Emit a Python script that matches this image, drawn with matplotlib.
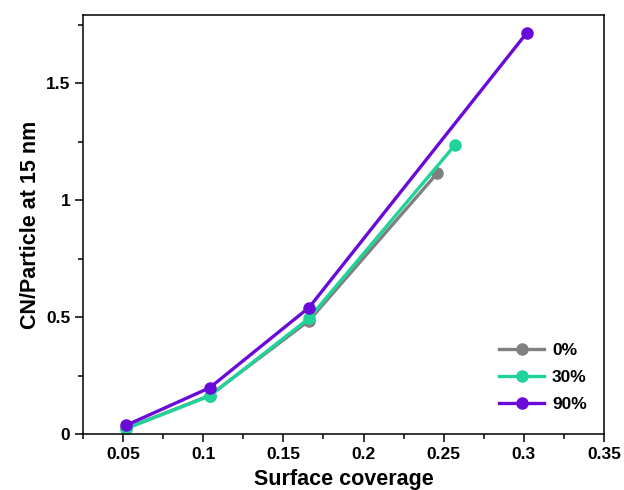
import matplotlib.pyplot as plt
from matplotlib.ticker import MultipleLocator

plt.rcParams['font.family'] = ['Liberation Sans', 'DejaVu Sans']
plt.rcParams['font.weight'] = 'bold'

coverage_0 = [0.052, 0.104, 0.166, 0.246]
cn_0 = [0.025, 0.165, 0.485, 1.115]

coverage_30 = [0.052, 0.104, 0.166, 0.257]
cn_30 = [0.024, 0.163, 0.495, 1.235]

coverage_90 = [0.052, 0.104, 0.166, 0.302]
cn_90 = [0.038, 0.198, 0.541, 1.716]

labels = ['0%', '30%', '90%']
colors = ['#808080', '#1fd39b', '#6a0ad8']

fig = plt.figure(figsize=(6.24, 4.9), dpi=100)
ax = fig.add_axes([0.133, 0.114, 0.835, 0.855])

series = [(coverage_0, cn_0), (coverage_30, cn_30), (coverage_90, cn_90)]
for (x, y), lab, c in zip(series, labels, colors):
    ax.plot(x, y, '-o', color=c, lw=2.4, markersize=8, label=lab)

ax.set_xlim(0.025, 0.35)
ax.set_ylim(0, 1.79)
ax.set_xticks([0.05, 0.1, 0.15, 0.2, 0.25, 0.3, 0.35])
ax.set_xticklabels(['0.05', '0.1', '0.15', '0.2', '0.25', '0.3', '0.35'])
ax.set_yticks([0, 0.5, 1, 1.5])
ax.set_yticklabels(['0', '0.5', '1', '1.5'])
ax.xaxis.set_minor_locator(MultipleLocator(0.025))
ax.yaxis.set_minor_locator(MultipleLocator(0.25))
ax.tick_params(which='major', direction='out', length=5.5, width=1.1, labelsize=12.5)
ax.tick_params(which='minor', direction='out', length=3.5, width=1.1)
for s in ax.spines.values():
    s.set_linewidth(1.1)

ax.set_xlabel('Surface coverage', fontsize=15.5, fontweight='bold', labelpad=5)
ax.set_ylabel('CN/Particle at 15 nm', fontsize=15.5, fontweight='bold', labelpad=4)

ax.legend(loc='lower right', bbox_to_anchor=(0.997, 0.015), frameon=False,
          fontsize=12.5, handlelength=2.6, labelspacing=0.7, handletextpad=0.45)

fig.savefig('out.png', dpi=100)
